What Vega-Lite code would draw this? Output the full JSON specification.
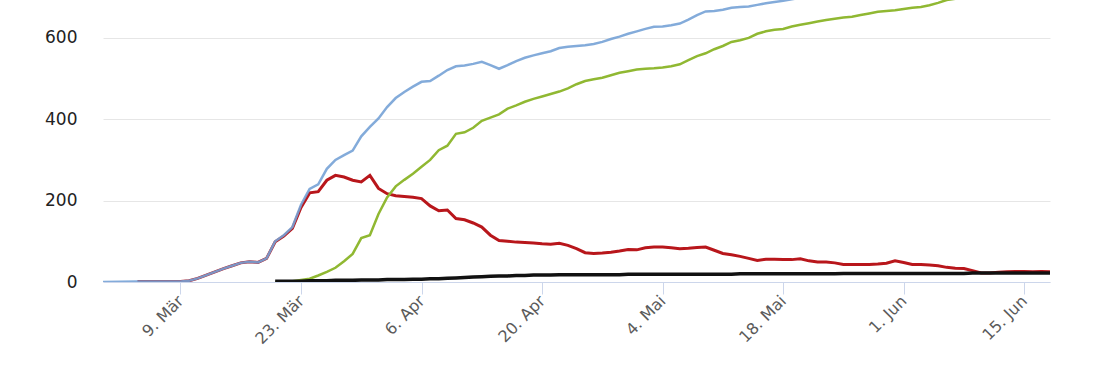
{
  "$schema": "https://vega.github.io/schema/vega-lite/v6.json",
  "width": 947,
  "height": 282,
  "autosize": {"type": "none"},
  "padding": {"left": 103, "top": 0, "right": 60, "bottom": 88},
  "background": "white",
  "config": {"view": {"stroke": null}, "font": "DejaVu Sans"},
  "data": {"values": [
    {"date": "2020-02-29", "T": 0},
    {"date": "2020-03-04", "T": 1, "A": 1},
    {"date": "2020-03-09", "T": 1, "A": 1},
    {"date": "2020-03-10", "T": 3, "A": 3},
    {"date": "2020-03-11", "T": 9, "A": 9},
    {"date": "2020-03-12", "T": 17, "A": 17},
    {"date": "2020-03-13", "T": 25, "A": 25},
    {"date": "2020-03-14", "T": 33, "A": 33},
    {"date": "2020-03-15", "T": 40, "A": 40},
    {"date": "2020-03-16", "T": 47, "A": 47},
    {"date": "2020-03-17", "T": 50, "A": 50},
    {"date": "2020-03-18", "T": 48, "A": 48},
    {"date": "2020-03-19", "T": 58, "A": 58},
    {"date": "2020-03-20", "T": 100, "A": 99, "R": 0, "D": 2},
    {"date": "2020-03-21", "T": 115, "A": 113, "R": 1, "D": 2},
    {"date": "2020-03-22", "T": 135, "A": 132, "R": 2, "D": 2},
    {"date": "2020-03-23", "T": 190, "A": 183, "R": 5, "D": 2},
    {"date": "2020-03-24", "T": 229, "A": 219, "R": 8, "D": 3},
    {"date": "2020-03-25", "T": 240, "A": 222, "R": 16, "D": 3},
    {"date": "2020-03-26", "T": 278, "A": 250, "R": 25, "D": 3},
    {"date": "2020-03-27", "T": 300, "A": 262, "R": 35, "D": 4},
    {"date": "2020-03-28", "T": 312, "A": 258, "R": 51, "D": 4},
    {"date": "2020-03-29", "T": 323, "A": 250, "R": 69, "D": 4},
    {"date": "2020-03-30", "T": 358, "A": 246, "R": 108, "D": 5},
    {"date": "2020-03-31", "T": 381, "A": 262, "R": 115, "D": 5},
    {"date": "2020-04-01", "T": 402, "A": 230, "R": 167, "D": 5},
    {"date": "2020-04-02", "T": 430, "A": 217, "R": 208, "D": 6},
    {"date": "2020-04-03", "T": 452, "A": 212, "R": 235, "D": 6},
    {"date": "2020-04-04", "T": 467, "A": 210, "R": 251, "D": 6},
    {"date": "2020-04-05", "T": 480, "A": 208, "R": 266, "D": 7},
    {"date": "2020-04-06", "T": 492, "A": 205, "R": 283, "D": 7},
    {"date": "2020-04-07", "T": 494, "A": 187, "R": 300, "D": 8},
    {"date": "2020-04-08", "T": 507, "A": 175, "R": 324, "D": 8},
    {"date": "2020-04-09", "T": 521, "A": 177, "R": 335, "D": 9},
    {"date": "2020-04-10", "T": 530, "A": 156, "R": 364, "D": 10},
    {"date": "2020-04-11", "T": 532, "A": 153, "R": 368, "D": 11},
    {"date": "2020-04-12", "T": 536, "A": 145, "R": 379, "D": 12},
    {"date": "2020-04-13", "T": 541, "A": 135, "R": 396, "D": 13},
    {"date": "2020-04-14", "T": 533, "A": 115, "R": 404, "D": 14},
    {"date": "2020-04-15", "T": 524, "A": 102, "R": 412, "D": 15},
    {"date": "2020-04-16", "T": 533, "A": 100, "R": 426, "D": 15},
    {"date": "2020-04-17", "T": 543, "A": 98, "R": 434, "D": 16},
    {"date": "2020-04-18", "T": 551, "A": 97, "R": 443, "D": 16},
    {"date": "2020-04-19", "T": 557, "A": 96, "R": 450, "D": 17},
    {"date": "2020-04-20", "T": 562, "A": 94, "R": 456, "D": 17},
    {"date": "2020-04-21", "T": 567, "A": 93, "R": 462, "D": 17},
    {"date": "2020-04-22", "T": 575, "A": 95, "R": 468, "D": 18},
    {"date": "2020-04-23", "T": 578, "A": 90, "R": 476, "D": 18},
    {"date": "2020-04-24", "T": 580, "A": 82, "R": 486, "D": 18},
    {"date": "2020-04-25", "T": 582, "A": 72, "R": 494, "D": 18},
    {"date": "2020-04-26", "T": 585, "A": 70, "R": 498, "D": 18},
    {"date": "2020-04-27", "T": 590, "A": 71, "R": 502, "D": 18},
    {"date": "2020-04-28", "T": 597, "A": 73, "R": 508, "D": 18},
    {"date": "2020-04-29", "T": 603, "A": 76, "R": 514, "D": 18},
    {"date": "2020-04-30", "T": 610, "A": 80, "R": 518, "D": 19},
    {"date": "2020-05-01", "T": 616, "A": 79, "R": 522, "D": 19},
    {"date": "2020-05-02", "T": 622, "A": 84, "R": 524, "D": 19},
    {"date": "2020-05-03", "T": 627, "A": 86, "R": 525, "D": 19},
    {"date": "2020-05-04", "T": 628, "A": 86, "R": 527, "D": 19},
    {"date": "2020-05-05", "T": 631, "A": 84, "R": 530, "D": 19},
    {"date": "2020-05-06", "T": 635, "A": 82, "R": 535, "D": 19},
    {"date": "2020-05-07", "T": 645, "A": 83, "R": 545, "D": 19},
    {"date": "2020-05-08", "T": 656, "A": 85, "R": 555, "D": 19},
    {"date": "2020-05-09", "T": 665, "A": 86, "R": 562, "D": 19},
    {"date": "2020-05-10", "T": 666, "A": 78, "R": 572, "D": 19},
    {"date": "2020-05-11", "T": 669, "A": 70, "R": 580, "D": 19},
    {"date": "2020-05-12", "T": 674, "A": 67, "R": 590, "D": 19},
    {"date": "2020-05-13", "T": 676, "A": 63, "R": 594, "D": 20},
    {"date": "2020-05-14", "T": 677, "A": 58, "R": 600, "D": 20},
    {"date": "2020-05-15", "T": 681, "A": 53, "R": 610, "D": 20},
    {"date": "2020-05-16", "T": 685, "A": 56, "R": 616, "D": 20},
    {"date": "2020-05-17", "T": 688, "A": 56, "R": 620, "D": 20},
    {"date": "2020-05-18", "T": 691, "A": 55, "R": 622, "D": 20},
    {"date": "2020-05-19", "T": 695, "A": 55, "R": 628, "D": 20},
    {"date": "2020-05-20", "T": 698, "A": 57, "R": 632, "D": 20},
    {"date": "2020-05-21", "T": 701, "A": 52, "R": 636, "D": 20},
    {"date": "2020-05-22", "T": 704, "A": 49, "R": 640, "D": 20},
    {"date": "2020-05-23", "T": 707, "A": 49, "R": 644, "D": 20},
    {"date": "2020-05-24", "T": 709, "A": 47, "R": 647, "D": 20},
    {"date": "2020-05-25", "T": 711, "A": 43, "R": 650, "D": 21},
    {"date": "2020-05-26", "T": 713, "A": 43, "R": 652, "D": 21},
    {"date": "2020-05-27", "T": 716, "A": 43, "R": 656, "D": 21},
    {"date": "2020-05-28", "T": 720, "A": 43, "R": 660, "D": 21},
    {"date": "2020-05-29", "T": 724, "A": 44, "R": 664, "D": 21},
    {"date": "2020-05-30", "T": 728, "A": 46, "R": 666, "D": 21},
    {"date": "2020-05-31", "T": 732, "A": 52, "R": 668, "D": 21},
    {"date": "2020-06-01", "T": 735, "A": 48, "R": 671, "D": 21},
    {"date": "2020-06-02", "T": 737, "A": 43, "R": 674, "D": 21},
    {"date": "2020-06-03", "T": 739, "A": 43, "R": 676, "D": 21},
    {"date": "2020-06-04", "T": 741, "A": 42, "R": 680, "D": 21},
    {"date": "2020-06-05", "T": 744, "A": 40, "R": 686, "D": 21},
    {"date": "2020-06-06", "T": 746, "A": 36, "R": 693, "D": 21},
    {"date": "2020-06-07", "T": 748, "A": 34, "R": 696, "D": 21},
    {"date": "2020-06-08", "T": 750, "A": 33, "R": 699, "D": 21},
    {"date": "2020-06-09", "T": 751, "A": 28, "R": 702, "D": 22},
    {"date": "2020-06-10", "T": 752, "A": 22, "R": 705, "D": 22},
    {"date": "2020-06-11", "T": 753, "A": 22, "R": 707, "D": 22},
    {"date": "2020-06-12", "T": 755, "A": 24, "R": 709, "D": 22},
    {"date": "2020-06-13", "T": 757, "A": 25, "R": 711, "D": 22},
    {"date": "2020-06-14", "T": 759, "A": 26, "R": 713, "D": 22},
    {"date": "2020-06-15", "T": 761, "A": 26, "R": 715, "D": 22},
    {"date": "2020-06-16", "T": 763, "A": 25, "R": 717, "D": 22},
    {"date": "2020-06-17", "T": 765, "A": 26, "R": 719, "D": 22},
    {"date": "2020-06-18", "T": 767, "A": 25, "R": 721, "D": 22}
  ]},
  "encoding": {
    "x": {
      "field": "date",
      "type": "temporal",
      "scale": {
        "type": "utc",
        "domain": [
          {"year": 2020, "month": 2, "date": 29, "utc": true},
          {"year": 2020, "month": 6, "date": 18, "utc": true}
        ]
      },
      "axis": {
        "title": null,
        "grid": false,
        "values": [
          {"year": 2020, "month": 3, "date": 9, "utc": true},
          {"year": 2020, "month": 3, "date": 23, "utc": true},
          {"year": 2020, "month": 4, "date": 6, "utc": true},
          {"year": 2020, "month": 4, "date": 20, "utc": true},
          {"year": 2020, "month": 5, "date": 4, "utc": true},
          {"year": 2020, "month": 5, "date": 18, "utc": true},
          {"year": 2020, "month": 6, "date": 1, "utc": true},
          {"year": 2020, "month": 6, "date": 15, "utc": true}
        ],
        "labelExpr": "utcdate(datum.value) + '. ' + ['Jan','Feb','Mär','Apr','Mai','Jun','Jul'][utcmonth(datum.value)]",
        "labelAngle": -45,
        "labelAlign": "right",
        "labelBaseline": "middle",
        "labelFontSize": 16,
        "labelFont": "DejaVu Sans",
        "labelColor": "#5a5a5a",
        "labelPadding": 4,
        "labelFlush": false,
        "labelOverlap": false,
        "domainColor": "#ccd6eb",
        "tickColor": "#ccd6eb",
        "tickSize": 12
      }
    }
  },
  "layer": [
    {
      "mark": {"type": "line", "clip": true, "color": "#b8161b", "strokeWidth": 3},
      "encoding": {
        "y": {
          "field": "A",
          "type": "quantitative",
          "scale": {"domain": [0, 693], "nice": false},
          "axis": {
            "title": null,
            "values": [0, 200, 400, 600],
            "grid": true,
            "gridColor": "#e6e6e6",
            "domain": false,
            "ticks": false,
            "labelPadding": 26,
            "labelFontSize": 17,
            "labelFont": "DejaVu Sans",
            "labelColor": "#222222"
          }
        }
      }
    },
    {
      "mark": {"type": "line", "clip": true, "color": "#76a2d6", "strokeWidth": 2.5, "strokeOpacity": 0.9},
      "encoding": {"y": {"field": "T", "type": "quantitative"}}
    },
    {
      "mark": {"type": "line", "clip": true, "color": "#90b832", "strokeWidth": 2.5},
      "encoding": {"y": {"field": "R", "type": "quantitative"}}
    },
    {
      "mark": {"type": "line", "clip": true, "color": "#111111", "strokeWidth": 3.5},
      "encoding": {"y": {"field": "D", "type": "quantitative"}}
    }
  ]
}
